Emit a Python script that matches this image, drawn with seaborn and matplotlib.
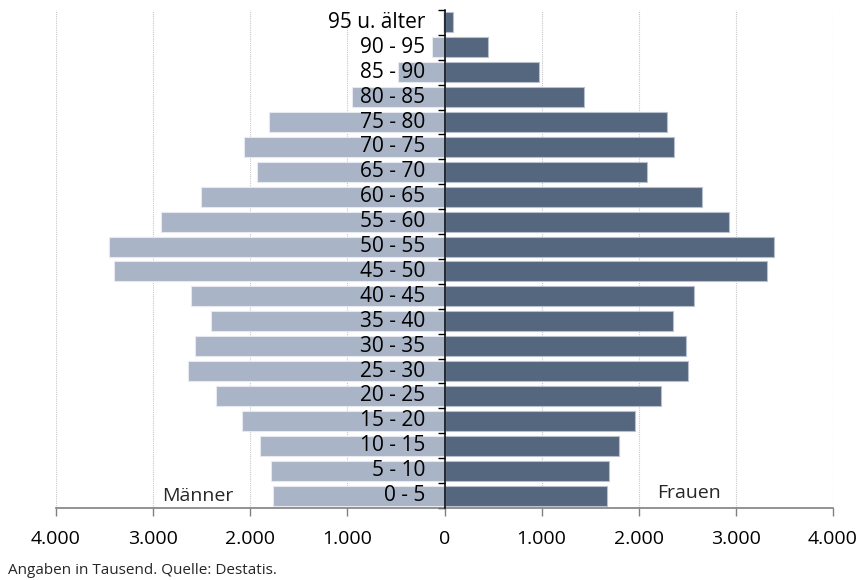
import numpy as np
import pandas as pd
import matplotlib
matplotlib.use("Agg")
import matplotlib.pyplot as plt
import seaborn as sns

# Age groups, oldest at the top
age_groups = ["95 u. älter", "90 - 95", "85 - 90", "80 - 85", "75 - 80",
              "70 - 75", "65 - 70", "60 - 65", "55 - 60", "50 - 55",
              "45 - 50", "40 - 45", "35 - 40", "30 - 35", "25 - 30",
              "20 - 25", "15 - 20", "10 - 15", "5 - 10", "0 - 5"]

# Population in thousands
maenner = [20, 132, 475, 952, 1805,
           2060, 1926, 2502, 2917, 3459,
           3407, 2615, 2399, 2574, 2646,
           2348, 2080, 1895, 1782, 1764]
frauen = [84, 451, 975, 1435, 2292,
          2364, 2080, 2649, 2934, 3397,
          3318, 2570, 2354, 2491, 2512,
          2227, 1963, 1798, 1689, 1675]

x_ticks = [-4000, -3000, -2000, -1000, 0, 1000, 2000, 3000, 4000]
x_tick_labels = ["4.000", "3.000", "2.000", "1.000", "0",
                 "1.000", "2.000", "3.000", "4.000"]

df = pd.DataFrame({"Alter": age_groups,
                   "Männer": -np.array(maenner),
                   "Frauen": np.array(frauen)})

sns.set_style("white")
plt.rcParams["font.family"] = ["Open Sans", "DejaVu Sans"]

LIGHT = "#A9B4C6"
DARK = "#55667F"

fig = plt.figure(figsize=(8.6, 5.8), dpi=100)
ax = fig.add_axes([56 / 860, 1 - 508 / 580, (833 - 56) / 860, (508 - 10) / 580])

sns.barplot(data=df, x="Männer", y="Alter", order=age_groups, color=LIGHT,
            saturation=1, width=0.8, edgecolor="#E6EAF0", linewidth=0.8,
            orient="h", ax=ax, zorder=2)
sns.barplot(data=df, x="Frauen", y="Alter", order=age_groups, color=DARK,
            saturation=1, width=0.8, edgecolor="#B8C0CE", linewidth=0.8,
            orient="h", ax=ax, zorder=2)

n = len(age_groups)
ax.set_xlim(-4000, 4000)
ax.set_ylim(n - 0.5, -0.5)

# vertical dotted grid
for xv in x_ticks:
    ax.axvline(xv, color="#C8C8C8", linestyle=(0, (1, 1)), linewidth=0.8, zorder=0)

# x axis
ax.set_xticks(x_ticks)
ax.set_xticklabels(x_tick_labels, fontsize=14)
ax.tick_params(axis="x", direction="out", length=6, width=1, color="#808080",
               pad=10, labelcolor="black", bottom=True)
ax.spines["bottom"].set_color("#808080")
ax.spines["bottom"].set_linewidth(1.2)
ax.spines["top"].set_visible(False)
ax.spines["right"].set_visible(False)

# central axis at zero with ticks at the group boundaries
ax.spines["left"].set_position(("data", 0))
ax.spines["left"].set_color("black")
ax.spines["left"].set_linewidth(1.1)
ax.spines["left"].set_zorder(3)
ax.set_yticks(np.arange(-0.5, n, 1.0))
ax.set_yticklabels([])
ax.tick_params(axis="y", direction="out", length=5, width=1, color="black", left=True)

ax.set_xlabel("")
ax.set_ylabel("")

# age group labels over the male bars
for i, label in enumerate(age_groups):
    ax.text(-200, i, label, ha="right", va="center", fontsize=15,
            color="black", zorder=4)

ax.text(-2536, 19.0, "Männer", ha="center", va="center", fontsize=14, zorder=4)
ax.text(2515, 18.9, "Frauen", ha="center", va="center", fontsize=14, zorder=4)

fig.text(8 / 860, 1 - 571 / 580, "Angaben in Tausend. Quelle: Destatis.",
         ha="left", va="center", fontsize=11)

fig.savefig("out.png", dpi=100)
